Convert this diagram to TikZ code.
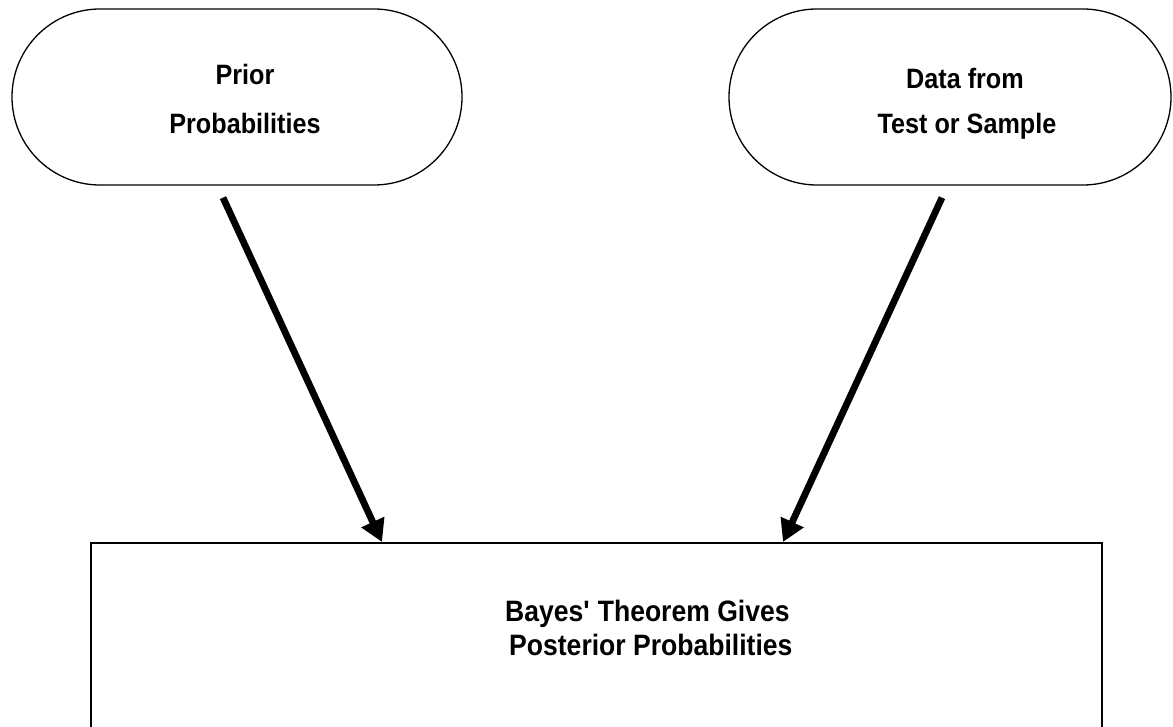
\documentclass[tikz,border=0pt]{standalone}
\usepackage{fontspec}
\setmainfont{Liberation Sans}
\newfontfamily\reffont{Liberation Sans}[FakeStretch=0.9]
\usetikzlibrary{arrows.meta,shapes.misc,calc}
\tikzset{
  stadium/.style={draw=black, line width=1.3pt, rounded rectangle, minimum width=450pt, minimum height=176pt, inner sep=0pt},
  boxstyle/.style={draw=black, line width=1.8pt, rectangle, minimum width=1011pt, minimum height=220pt, inner sep=0pt},
  lbl/.style={font=\reffont\fontsize{28pt}{30pt}\selectfont\bfseries, inner sep=0pt},
  blbl/.style={font=\reffont\fontsize{29.5pt}{30pt}\selectfont\bfseries, inner sep=0pt, anchor=base west},
  arr/.style={line width=6.8pt, -{Triangle[length=22pt,width=24pt]}}
}
\begin{document}
\begin{tikzpicture}[x=1pt,y=1pt]
\useasboundingbox (0,0) rectangle (1173,-727);
\clip (0,0) rectangle (1173,-727);
\fill[white] (0,0) rectangle (1173,-727);
\node[stadium] (prior) at (237,-97) {};
\node[stadium, minimum width=442pt] (data) at (950,-97) {};
\node[boxstyle, anchor=north] (box) at (596.5,-542) {};
\node[lbl] (t1) at (245,-74) {Prior};
\node[lbl] (t2) at (245,-123) {Probabilities};
\node[lbl] (t3) at (965,-78) {Data from};
\node[lbl] (t4) at (967,-126) {Test or Sample};
\node[blbl] (t5) at (505,-621) {Bayes\textquotesingle\ Theorem Gives};
\node[blbl] (t6) at (509,-655) {Posterior Probabilities};
\coordinate (s1) at ($(prior.south)+(-14,-12)$);
\coordinate (s2) at ($(data.south)+(-8,-12)$);
\coordinate (e1) at ($(box.north)+(-214.5,0)$);
\coordinate (e2) at ($(box.north)+(186.5,0)$);
\draw[arr] (s1) -- (e1);
\draw[arr] (s2) -- (e2);
\end{tikzpicture}
\end{document}
